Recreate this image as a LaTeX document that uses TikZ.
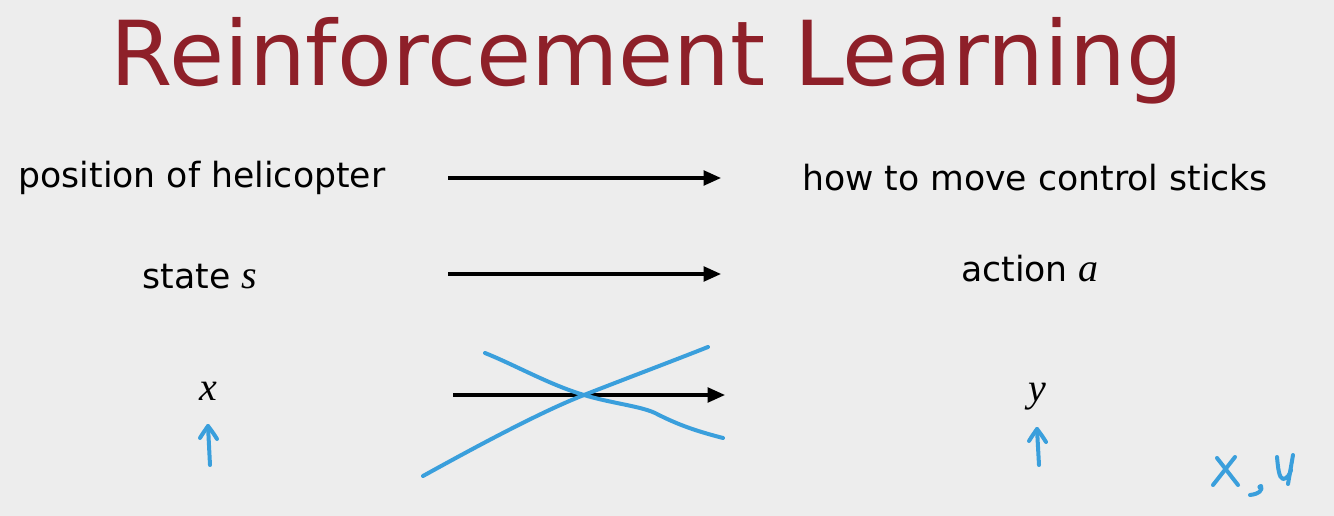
\documentclass[tikz,border=0pt]{standalone}
\usepackage{fontspec}
\setmainfont{DejaVu Sans}
\newfontfamily\varfont{Liberation Serif}
\usetikzlibrary{arrows.meta}
\definecolor{bg}{HTML}{EDEDED}
\definecolor{titlered}{HTML}{8E2029}
\definecolor{pen}{HTML}{3A9FDC}
\newcommand{\var}[1]{{\varfont\itshape\fontsize{30}{30}\selectfont #1}}
\begin{document}
\begin{tikzpicture}[x=0.75pt,y=-0.75pt,
  txt/.style={font=\fontsize{26}{30}\selectfont, text=black, inner sep=0pt},
  maparrow/.style={line width=2.3pt, -{Triangle[length=13pt,width=11pt]}},
  ink/.style={draw=pen, line width=3pt, line cap=round, line join=round}]
\fill[bg] (0,0) rectangle (1334,516);
\useasboundingbox (0,0) rectangle (1334,516);

% title
\node[font=\fontsize{67.2}{72}\selectfont, text=titlered, inner sep=0pt] (title) at (647,61) {Reinforcement Learning};

% row 1
\node[txt] (pos) at (202,178) {position of helicopter};
\node[txt] (how) at (1035,178) {how to move control sticks};
\coordinate (a1s) at (448,178);
\coordinate (a1e) at (721,178);
\draw[maparrow] (a1s) -- (a1e);

% row 2
\node[txt] (state) at (200,277) {state \var{s}};
\node[txt] (action) at (1030,269) {action \var{a}};
\coordinate (a2s) at (448,274);
\coordinate (a2e) at (721,274);
\draw[maparrow] (a2s) -- (a2e);

% row 3
\node[txt] (x) at (208,391) {\var{x}};
\node[txt] (y) at (1037,397) {\var{y}};
\coordinate (a3s) at (453,395);
\coordinate (a3e) at (725,395);
\draw[maparrow] (a3s) -- (a3e);

% handwritten cross over the third arrow
\draw[ink] (423,476) .. controls (470,450) and (540,412) .. (584,395)
           .. controls (630,377) and (670,362) .. (708,347);
\draw[ink] (485,353) .. controls (515,365) and (550,385) .. (584,395)
           .. controls (610,403) and (640,406) .. (655,413)
           .. controls (680,426) and (700,432) .. (723,438);

% handwritten arrows under x and y
\coordinate (xu0) at (210,465);
\coordinate (xu1) at (208,426);
\draw[ink] (xu0) -- (xu1);
\draw[ink] (200,438) .. controls (203,433) and (206,429) .. (xu1)
           .. controls (211,430) and (214,434) .. (217,439);
\coordinate (yu0) at (1039,465);
\coordinate (yu1) at (1037,429);
\draw[ink] (yu0) -- (yu1);
\draw[ink] (1029,441) .. controls (1032,436) and (1035,432) .. (yu1)
           .. controls (1040,433) and (1043,437) .. (1046,442);

% handwritten "X, Y"
\draw[ink] (1217,458) -- (1238,485);
\draw[ink] (1235,457) -- (1213,485);
\draw[ink] (1261,486) .. controls (1263,490) and (1259,494) .. (1250,495);
\fill[pen] (1260,487) circle (2.6);
\draw[ink] (1277,457) .. controls (1278,468) and (1279,478) .. (1283,479)
           .. controls (1287,479) and (1290,474) .. (1291,470);
\draw[ink] (1293,455) -- (1288,484);
\end{tikzpicture}
\end{document}
